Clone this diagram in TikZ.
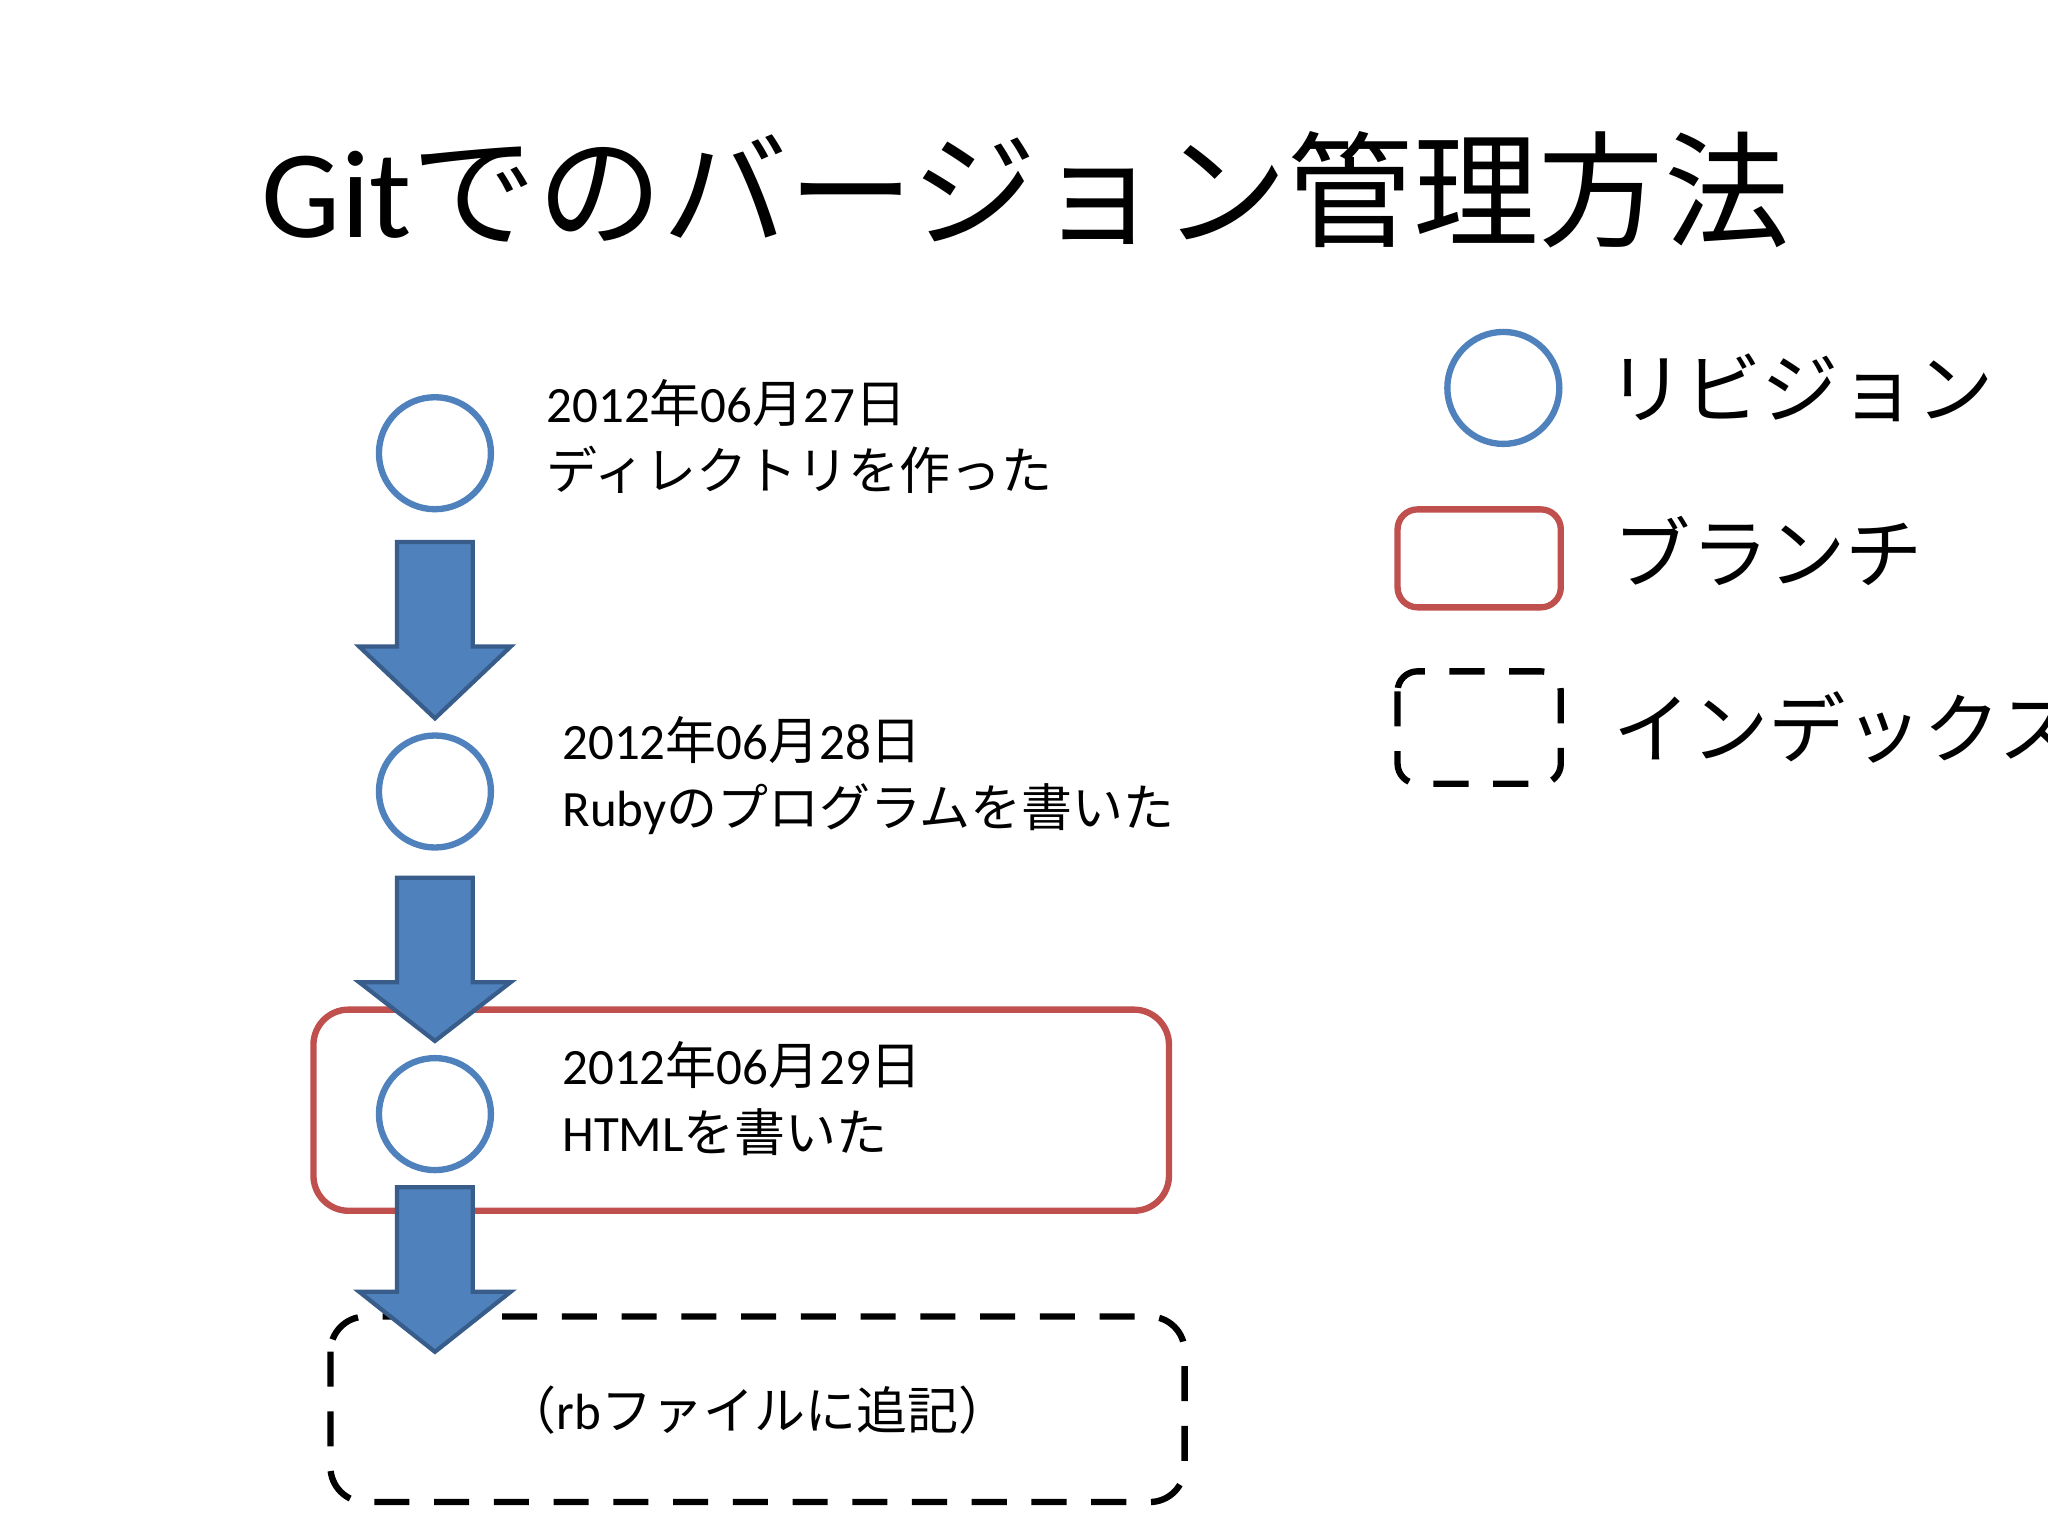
\documentclass[tikz,border=0pt]{standalone}
\usepackage{fontspec}
\setmainfont{Carlito}
\newfontfamily\cjk{Noto Sans CJK JP}
\newcommand{\jj}[1]{{\cjk #1}}
\definecolor{blu}{HTML}{4F81BD}
\definecolor{bluD}{HTML}{385D8A}
\definecolor{redb}{HTML}{C0504D}
\begin{document}
\begin{tikzpicture}[x=0.01306cm,y=-0.01306cm,
  rev/.style={circle,draw=blu,line width=1.8pt,minimum size=1.12cm,inner sep=0},
  lbl/.style={anchor=west,align=left,font=\fontsize{14.5}{17}\selectfont,inner sep=0},
  leg/.style={anchor=west,inner sep=0,font=\fontsize{22}{26}\cjk}]
\clip (0,0) rectangle (1568,1176);
\fill[white] (0,0) rectangle (1568,1176);
\node[inner sep=0,anchor=west,font=\fontsize{35.7}{42}\selectfont] (title) at (200,145) {Git\jj{でのバージョン管理方法}};
% branch and index boxes
\draw[redb,line width=1.8pt,rounded corners=0.35cm] (240,773) rectangle (895,927);
\draw[black,line width=1.8pt,dashed,dash pattern=on 10pt off 7pt,rounded corners=0.35cm] (253,1008) rectangle (907,1150);
\node[rev] (r1) at (333,347) {};
\node[rev] (r2) at (333,606) {};
\node[rev] (r3) at (333,853) {};
\foreach \t/\b in {415/550,672/797,909/1035}{
  \filldraw[fill=blu,draw=bluD,line width=1.2pt] (304,\t) -- (362,\t) -- (362,\t+80) -- (391,\t+80) -- (333,\b) -- (275,\t+80) -- (304,\t+80) -- cycle;
}
\node[lbl] (t1) at (418,334) {2012\jj{年}06\jj{月}27\jj{日}\\[2pt]\jj{ディレクトリを作った}};
\node[lbl] (t2) at (430,594) {2012\jj{年}06\jj{月}28\jj{日}\\[2pt]Ruby\jj{のプログラムを書いた}};
\node[lbl] (t3) at (430,841) {2012\jj{年}06\jj{月}29\jj{日}\\[2pt]HTML\jj{を書いた}};
\node[font=\fontsize{14.5}{18}\selectfont,inner sep=0] (t4) at (580,1080) {\jj{（}rb\jj{ファイルに追記）}};
% legend
\node[rev] (lr) at (1151,297) {};
\draw[redb,line width=1.8pt,rounded corners=0.2cm] (1070,390) rectangle (1195,465);
\draw[black,line width=1.8pt,dashed,dash pattern=on 10pt off 7pt,rounded corners=0.2cm] (1070,514) rectangle (1195,600);
\node[leg] (l1) at (1230,297) {リビジョン};
\node[leg] (l2) at (1235,422) {ブランチ};
\node[leg] (l3) at (1235,557) {インデックス};
\end{tikzpicture}
\end{document}
